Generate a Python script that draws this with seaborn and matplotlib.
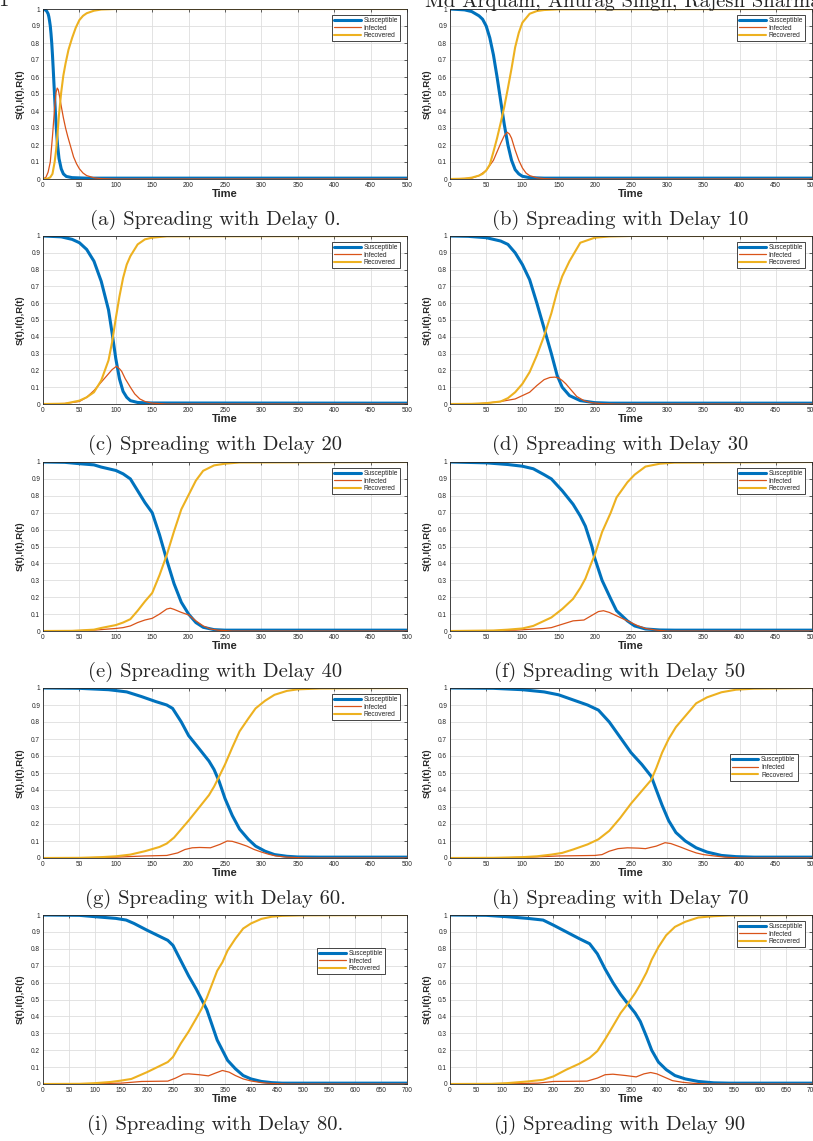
import matplotlib
matplotlib.use("Agg")
import matplotlib.pyplot as plt
import seaborn as sns

# (time, value) pairs: S = susceptible, I = infected, R = recovered
S0 = [(0, 1.0), (3, 0.995), (5, 0.988), (7, 0.972), (8, 0.955), (9, 0.93), (10, 0.9), (11, 0.855), (12, 0.8), (13, 0.73),
      (14, 0.65), (15, 0.565), (16, 0.48), (17, 0.395), (18, 0.32), (19, 0.255), (20, 0.2), (22, 0.12), (25, 0.06),
      (28, 0.03), (32, 0.015), (40, 0.008), (60, 0.005), (500, 0.005)]
I0 = [(0, 0.0), (4, 0.01), (7, 0.04), (10, 0.1), (13, 0.25), (16, 0.42), (18, 0.51), (19.5, 0.535), (21, 0.525), (23, 0.48),
      (25, 0.43), (28, 0.36), (31, 0.3), (34, 0.25), (38, 0.19), (42, 0.13), (46, 0.09), (50, 0.06), (55, 0.035), (60, 0.02),
      (70, 0.007), (80, 0.002), (100, 0.0), (500, 0.0)]
R0 = [(0, 0.0), (6, 0.002), (10, 0.01), (13, 0.03), (16, 0.1), (18, 0.17), (20, 0.27), (22, 0.38), (25, 0.51), (28, 0.61),
      (31, 0.68), (35, 0.76), (40, 0.83), (45, 0.89), (50, 0.935), (55, 0.96), (60, 0.975), (70, 0.99), (80, 0.997),
      (100, 1.0), (500, 1.0)]

S10 = [(0, 1.0), (20, 0.995), (30, 0.985), (40, 0.96), (45, 0.94), (50, 0.9), (55, 0.83), (60, 0.73), (65, 0.6), (70, 0.46),
       (75, 0.32), (80, 0.2), (85, 0.11), (90, 0.055), (95, 0.03), (100, 0.016), (110, 0.008), (130, 0.005), (500, 0.005)]
I10 = [(0, 0.0), (30, 0.005), (40, 0.02), (50, 0.05), (60, 0.11), (65, 0.16), (70, 0.21), (75, 0.255), (79, 0.275), (82, 0.265),
       (85, 0.24), (90, 0.17), (95, 0.11), (100, 0.065), (105, 0.035), (110, 0.02), (120, 0.007), (130, 0.002), (150, 0.0),
       (500, 0.0)]
R10 = [(0, 0.0), (20, 0.002), (30, 0.008), (40, 0.02), (45, 0.03), (50, 0.05), (55, 0.085), (60, 0.16), (65, 0.24), (70, 0.33),
       (75, 0.425), (80, 0.535), (85, 0.65), (90, 0.775), (95, 0.86), (100, 0.92), (110, 0.972), (120, 0.988), (130, 0.994),
       (150, 0.998), (500, 1.0)]

S20 = [(0, 1.0), (25, 0.995), (40, 0.98), (50, 0.96), (60, 0.92), (70, 0.85), (80, 0.73), (90, 0.56), (95, 0.42), (100, 0.27),
       (105, 0.15), (110, 0.075), (115, 0.04), (120, 0.02), (130, 0.009), (150, 0.006), (500, 0.005)]
I20 = [(0, 0.0), (30, 0.003), (50, 0.015), (60, 0.04), (70, 0.08), (80, 0.13), (90, 0.18), (95, 0.205), (101, 0.225),
       (105, 0.21), (108, 0.195), (113, 0.15), (120, 0.1), (126, 0.06), (133, 0.03), (140, 0.015), (150, 0.005), (170, 0.0),
       (500, 0.0)]
R20 = [(0, 0.0), (30, 0.002), (50, 0.02), (60, 0.04), (70, 0.07), (80, 0.14), (90, 0.26), (95, 0.37), (100, 0.51),
       (105, 0.64), (110, 0.75), (115, 0.83), (120, 0.88), (130, 0.95), (140, 0.98), (150, 0.99), (170, 0.998), (500, 1.0)]

S30 = [(0, 1.0), (25, 0.998), (50, 0.99), (70, 0.97), (80, 0.95), (90, 0.9), (100, 0.83), (110, 0.74), (120, 0.6), (130, 0.45),
       (140, 0.3), (148, 0.17), (155, 0.1), (165, 0.05), (180, 0.02), (200, 0.008), (220, 0.005), (500, 0.005)]
I30 = [(0, 0.0), (40, 0.002), (50, 0.005), (70, 0.015), (90, 0.03), (100, 0.05), (110, 0.07), (120, 0.11), (130, 0.145),
       (138, 0.158), (145, 0.16), (150, 0.155), (155, 0.14), (160, 0.12), (168, 0.08), (175, 0.045), (185, 0.02),
       (195, 0.008), (210, 0.002), (230, 0.0), (500, 0.0)]
R30 = [(0, 0.0), (30, 0.001), (50, 0.005), (70, 0.015), (80, 0.035), (90, 0.07), (100, 0.12), (110, 0.19), (120, 0.29),
       (130, 0.405), (140, 0.54), (148, 0.67), (155, 0.76), (165, 0.85), (180, 0.96), (200, 0.99), (220, 0.997), (250, 1.0),
       (500, 1.0)]

S40 = [(0, 1.0), (30, 0.998), (50, 0.99), (70, 0.983), (80, 0.97), (100, 0.95), (110, 0.93), (120, 0.9), (130, 0.83),
       (140, 0.76), (150, 0.7), (160, 0.57), (170, 0.42), (180, 0.28), (190, 0.17), (200, 0.1), (210, 0.05), (220, 0.022),
       (235, 0.008), (250, 0.005), (500, 0.005)]
I40 = [(0, 0.0), (50, 0.002), (70, 0.005), (100, 0.015), (110, 0.02), (120, 0.03), (130, 0.05), (140, 0.065), (150, 0.075),
       (160, 0.1), (170, 0.13), (175, 0.135), (180, 0.128), (190, 0.11), (200, 0.095), (210, 0.06), (220, 0.03), (230, 0.012),
       (240, 0.005), (260, 0.0), (500, 0.0)]
R40 = [(0, 0.0), (40, 0.001), (70, 0.008), (80, 0.018), (100, 0.035), (110, 0.05), (120, 0.07), (130, 0.12), (140, 0.175),
       (150, 0.225), (160, 0.33), (170, 0.45), (180, 0.59), (190, 0.72), (200, 0.805), (210, 0.89), (220, 0.948), (235, 0.98),
       (250, 0.99), (270, 0.997), (500, 1.0)]

S50 = [(0, 1.0), (50, 0.995), (80, 0.985), (100, 0.975), (115, 0.96), (130, 0.925), (140, 0.9), (155, 0.83), (170, 0.75),
       (180, 0.68), (187, 0.62), (196, 0.5), (200, 0.43), (210, 0.3), (222, 0.19), (230, 0.12), (245, 0.06), (255, 0.03),
       (270, 0.012), (290, 0.006), (310, 0.005), (500, 0.005)]
I50 = [(0, 0.0), (60, 0.002), (90, 0.005), (110, 0.01), (130, 0.015), (140, 0.02), (155, 0.04), (170, 0.06), (185, 0.065),
       (195, 0.09), (205, 0.115), (212, 0.12), (220, 0.11), (230, 0.09), (240, 0.07), (250, 0.05), (260, 0.03), (270, 0.015),
       (285, 0.005), (300, 0.0), (500, 0.0)]
R50 = [(0, 0.0), (60, 0.003), (80, 0.008), (100, 0.015), (115, 0.03), (130, 0.06), (140, 0.08), (155, 0.13), (170, 0.19),
       (180, 0.255), (187, 0.31), (196, 0.41), (200, 0.45), (210, 0.585), (222, 0.7), (230, 0.79), (245, 0.88), (255, 0.925),
       (270, 0.973), (290, 0.99), (310, 0.996), (500, 1.0)]

S60 = [(0, 1.0), (50, 0.998), (90, 0.99), (100, 0.985), (115, 0.977), (135, 0.95), (155, 0.92), (170, 0.9), (178, 0.88),
       (190, 0.8), (200, 0.72), (215, 0.64), (228, 0.57), (235, 0.52), (242, 0.45), (250, 0.35), (260, 0.25), (270, 0.17),
       (282, 0.11), (292, 0.07), (305, 0.04), (318, 0.02), (335, 0.01), (350, 0.006), (380, 0.005), (500, 0.005)]
I60 = [(0, 0.0), (50, 0.001), (100, 0.005), (140, 0.012), (170, 0.015), (185, 0.03), (195, 0.05), (205, 0.06), (215, 0.062),
       (230, 0.06), (243, 0.08), (253, 0.1), (260, 0.098), (270, 0.085), (280, 0.07), (290, 0.05), (300, 0.035), (310, 0.022),
       (320, 0.012), (335, 0.005), (350, 0.002), (370, 0.0), (500, 0.0)]
R60 = [(0, 0.0), (50, 0.001), (80, 0.005), (100, 0.01), (120, 0.02), (140, 0.04), (160, 0.065), (170, 0.085), (180, 0.12),
       (190, 0.17), (200, 0.22), (215, 0.3), (228, 0.37), (235, 0.42), (242, 0.48), (250, 0.55), (260, 0.65), (270, 0.745),
       (282, 0.82), (292, 0.88), (305, 0.925), (318, 0.96), (335, 0.983), (350, 0.992), (380, 0.997), (500, 1.0)]

S70 = [(0, 1.0), (60, 0.998), (100, 0.99), (130, 0.977), (150, 0.96), (170, 0.93), (190, 0.9), (205, 0.87), (220, 0.8),
       (235, 0.71), (250, 0.62), (265, 0.55), (278, 0.48), (285, 0.4), (293, 0.31), (302, 0.22), (312, 0.15), (325, 0.1),
       (340, 0.06), (355, 0.035), (375, 0.015), (395, 0.008), (420, 0.005), (500, 0.005)]
I70 = [(0, 0.0), (70, 0.001), (110, 0.005), (150, 0.012), (200, 0.015), (210, 0.02), (220, 0.04), (232, 0.055), (245, 0.06),
       (260, 0.058), (270, 0.055), (285, 0.07), (297, 0.09), (305, 0.085), (318, 0.065), (330, 0.045), (340, 0.03),
       (350, 0.02), (365, 0.012), (380, 0.005), (400, 0.0), (500, 0.0)]
R70 = [(0, 0.0), (60, 0.001), (100, 0.005), (120, 0.01), (140, 0.02), (155, 0.03), (170, 0.05), (190, 0.08), (205, 0.11),
       (220, 0.16), (235, 0.235), (250, 0.32), (265, 0.395), (278, 0.46), (285, 0.53), (293, 0.62), (302, 0.7), (312, 0.77),
       (325, 0.835), (340, 0.91), (355, 0.945), (375, 0.975), (395, 0.99), (420, 0.996), (500, 1.0)]

S80 = [(0, 1.0), (70, 0.998), (100, 0.99), (140, 0.98), (160, 0.97), (175, 0.95), (200, 0.91), (220, 0.88), (240, 0.85),
       (250, 0.82), (265, 0.73), (280, 0.64), (295, 0.56), (305, 0.5), (315, 0.44), (325, 0.35), (335, 0.26), (345, 0.2),
       (355, 0.14), (370, 0.09), (385, 0.05), (400, 0.03), (420, 0.015), (440, 0.008), (460, 0.005), (700, 0.005)]
I80 = [(0, 0.0), (80, 0.001), (150, 0.005), (190, 0.015), (240, 0.017), (255, 0.035), (270, 0.058), (280, 0.06), (300, 0.055),
       (318, 0.048), (332, 0.065), (345, 0.08), (358, 0.07), (370, 0.05), (385, 0.03), (400, 0.018), (420, 0.008),
       (440, 0.003), (470, 0.0), (700, 0.0)]
R80 = [(0, 0.0), (70, 0.001), (100, 0.005), (130, 0.012), (150, 0.02), (170, 0.03), (200, 0.07), (220, 0.1), (240, 0.13),
       (250, 0.16), (265, 0.24), (280, 0.31), (295, 0.39), (305, 0.445), (315, 0.51), (325, 0.59), (335, 0.67), (345, 0.72),
       (355, 0.79), (370, 0.86), (385, 0.92), (400, 0.95), (420, 0.977), (440, 0.99), (460, 0.995), (500, 0.998), (700, 1.0)]

S90 = [(0, 1.0), (70, 0.998), (110, 0.99), (150, 0.98), (180, 0.97), (200, 0.94), (225, 0.9), (250, 0.86), (270, 0.83),
       (285, 0.77), (300, 0.68), (315, 0.6), (330, 0.53), (345, 0.47), (358, 0.42), (368, 0.37), (380, 0.28), (390, 0.2),
       (403, 0.13), (418, 0.085), (435, 0.05), (455, 0.03), (480, 0.015), (510, 0.007), (540, 0.005), (700, 0.005)]
I90 = [(0, 0.0), (100, 0.001), (170, 0.005), (200, 0.015), (265, 0.017), (285, 0.035), (300, 0.055), (315, 0.058),
       (340, 0.05), (360, 0.042), (375, 0.06), (388, 0.068), (400, 0.06), (415, 0.04), (430, 0.02), (450, 0.01), (470, 0.004),
       (500, 0.0), (700, 0.0)]
R90 = [(0, 0.0), (80, 0.001), (110, 0.005), (150, 0.015), (180, 0.025), (200, 0.045), (225, 0.085), (250, 0.12), (270, 0.155),
       (285, 0.195), (300, 0.265), (315, 0.342), (330, 0.42), (345, 0.48), (358, 0.538), (368, 0.59), (380, 0.66), (390, 0.735),
       (403, 0.81), (418, 0.88), (435, 0.93), (455, 0.96), (480, 0.985), (510, 0.993), (540, 0.997), (700, 1.0)]

captions = ["(a) Spreading with Delay 0.", "(b) Spreading with Delay 10", "(c) Spreading with Delay 20",
            "(d) Spreading with Delay 30", "(e) Spreading with Delay 40", "(f) Spreading with Delay 50",
            "(g) Spreading with Delay 60.", "(h) Spreading with Delay 70", "(i) Spreading with Delay 80.",
            "(j) Spreading with Delay 90"]
series = [(S0, I0, R0), (S10, I10, R10), (S20, I20, R20), (S30, I30, R30), (S40, I40, R40),
          (S50, I50, R50), (S60, I60, R60), (S70, I70, R70), (S80, I80, R80), (S90, I90, R90)]
xmax = [500] * 8 + [700, 700]
names = ["Susceptible", "Infected", "Recovered"]

# legend anchor (upper right corner, axes fraction)
leg_anchor = [(0.98, 0.965)] * 7 + [(0.96, 0.61), (0.94, 0.805), (0.98, 0.965)]

colors = ["#0072BD", "#D95319", "#EDB120"]
widths = [2.2, 0.9, 1.5]

sns.set_style("white")
plt.rcParams['font.family'] = ['Liberation Sans', 'DejaVu Sans']

W, H = 813, 1141
fig = plt.figure(figsize=(W / 100, H / 100), dpi=100)

cols = [(43, 407), (450, 812)]
rows = [(9, 179), (236, 404), (462, 631), (688, 858), (915, 1084)]
cap_x = [215, 620]

for k in range(10):
    r, c = divmod(k, 2)
    l, rr = cols[c]
    t, b = rows[r]
    ax = fig.add_axes([l / W, 1 - b / H, (rr - l) / W, (b - t) / H])
    for data, name, col, lw in zip(series[k], names, colors, widths):
        tt = [p[0] for p in data]
        vv = [p[1] for p in data]
        sns.lineplot(x=tt, y=vv, ax=ax, color=col, linewidth=lw, label=name,
                     sort=False, estimator=None, legend=False)
    ax.set_xlim(0, xmax[k])
    ax.set_ylim(0, 1)
    ax.set_xticks(range(0, xmax[k] + 1, 50))
    ax.set_yticks([i / 10 for i in range(11)])
    ax.set_yticklabels([f"{i / 10:g}" for i in range(11)])
    ax.grid(True, color="#dedede", linewidth=0.6)
    ax.set_axisbelow(True)
    ax.tick_params(direction="in", length=2.5, width=0.5, top=True, right=True,
                   labelsize=4.7, pad=2, labelcolor="#262626")
    for sp in ax.spines.values():
        sp.set_linewidth(0.6)
        sp.set_color("#262626")
    ax.set_xlabel("Time", fontsize=8, fontweight="bold")
    ax.xaxis.set_label_coords(0.5, -15 / (b - t))
    ax.xaxis.label.set_va("center")
    ax.set_ylabel("S(t),I(t),R(t)", fontsize=6.8, fontweight="bold")
    ax.yaxis.set_label_coords(-23 / (rr - l), 0.5)
    ax.yaxis.label.set_va("center")
    leg = ax.legend(loc="upper right", bbox_to_anchor=leg_anchor[k], fontsize=4.8, frameon=True,
                    fancybox=False, framealpha=1, edgecolor="#262626", borderpad=0.3,
                    labelspacing=0.1, handlelength=4.0, handletextpad=0.4, borderaxespad=0)
    leg.get_frame().set_linewidth(0.6)
    fig.text(cap_x[c] / W, 1 - (b + 46) / H, captions[k], family="cmr10", fontsize=14.8,
             ha="center", va="baseline")

# page header, cut at the top edge
fig.text(425 / W, 1 - 7 / H, "Md Arquam, Anurag Singh, Rajesh Sharma", family="cmr10",
         fontsize=14.8, va="baseline")
fig.text(-2 / W, 1 - 6 / H, "1", family="cmr10", fontsize=14.8, va="baseline")

fig.savefig("out.png", dpi=100)
